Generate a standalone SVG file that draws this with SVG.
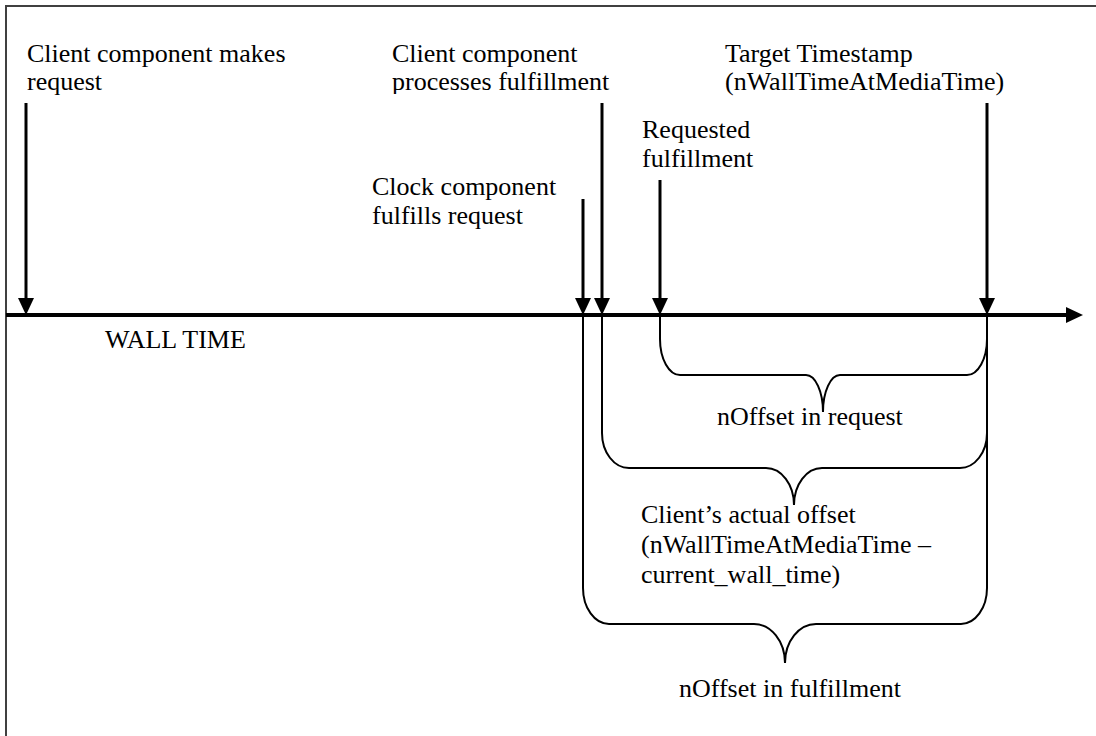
<svg xmlns="http://www.w3.org/2000/svg" width="1096" height="736" viewBox="0 0 1096 736">
<style>
text{font-family:"Liberation Serif","Times New Roman",serif;font-size:26px;fill:#000}
.arr{stroke:#000;stroke-width:3;fill:none}
.head{fill:#000}
.brace{stroke:#000;stroke-width:2;fill:none}
</style>
<defs>
<clipPath id="clipProc"><rect x="380" y="30" width="240" height="64"/></clipPath>
</defs>
<rect x="6" y="6" width="1100" height="740" fill="#fff" stroke="#404040" stroke-width="2"/>
<g id="connectors">
<line x1="6" y1="315" x2="1067" y2="315" stroke="#000" stroke-width="4"/>
<polygon class="head" points="1066,307 1083,315 1066,323"/>
<line class="arr" x1="26" y1="103" x2="26" y2="300"/>
<polygon class="head" points="18,298 34,298 26,315"/>
<line class="arr" x1="583" y1="199" x2="583" y2="300"/>
<polygon class="head" points="575,298 591,298 583,315"/>
<line class="arr" x1="602" y1="103" x2="602" y2="300"/>
<polygon class="head" points="594,298 610,298 602,315"/>
<line class="arr" x1="660" y1="180" x2="660" y2="300"/>
<polygon class="head" points="652,298 668,298 660,315"/>
<line class="arr" x1="987" y1="103" x2="987" y2="300"/>
<polygon class="head" points="979,298 995,298 987,315"/>
</g>
<g id="brace-request">
<path class="brace" d="M660,315 V339 A20 36 0 0 0 680,375 H806 A17 37 0 0 1 823,412 A17 37 0 0 1 840,375 H967 A20 36 0 0 0 987,339 V315"/>
<text x="717" y="425">nOffset in request</text>
</g>
<g id="brace-actual">
<path class="brace" d="M602,315 V433 A27 35 0 0 0 629,468 H766 A28 37 0 0 1 794,505 A28 37 0 0 1 822,468 H960 A27 35 0 0 0 987,433 V315"/>
<text x="641" y="523">Client’s actual offset</text>
<text x="641" y="553">(nWallTimeAtMediaTime –</text>
<text x="641" y="583">current_wall_time)</text>
</g>
<g id="brace-fulfillment">
<path class="brace" d="M583,315 V588 A26 36 0 0 0 609,624 H754 A31 39 0 0 1 785,663 A31 39 0 0 1 816,624 H961 A26 36 0 0 0 987,588 V315"/>
<text x="679" y="697">nOffset in fulfillment</text>
</g>
<g id="label-client-request">
<text x="27" y="62">Client component makes</text>
<text x="27" y="90">request</text>
</g>
<g id="label-client-processes" clip-path="url(#clipProc)">
<text x="392" y="62">Client component</text>
<text x="392" y="90">processes fulfillment</text>
</g>
<g id="label-target">
<text x="725" y="62">Target Timestamp</text>
<text x="725" y="90">(nWallTimeAtMediaTime)</text>
</g>
<g id="label-requested">
<text x="642" y="138">Requested</text>
<text x="642" y="167">fulfillment</text>
</g>
<g id="label-clock">
<text x="372" y="195">Clock component</text>
<text x="372" y="224">fulfills request</text>
</g>
<g id="label-wall">
<text x="105" y="348">WALL TIME</text>
</g>
</svg>
